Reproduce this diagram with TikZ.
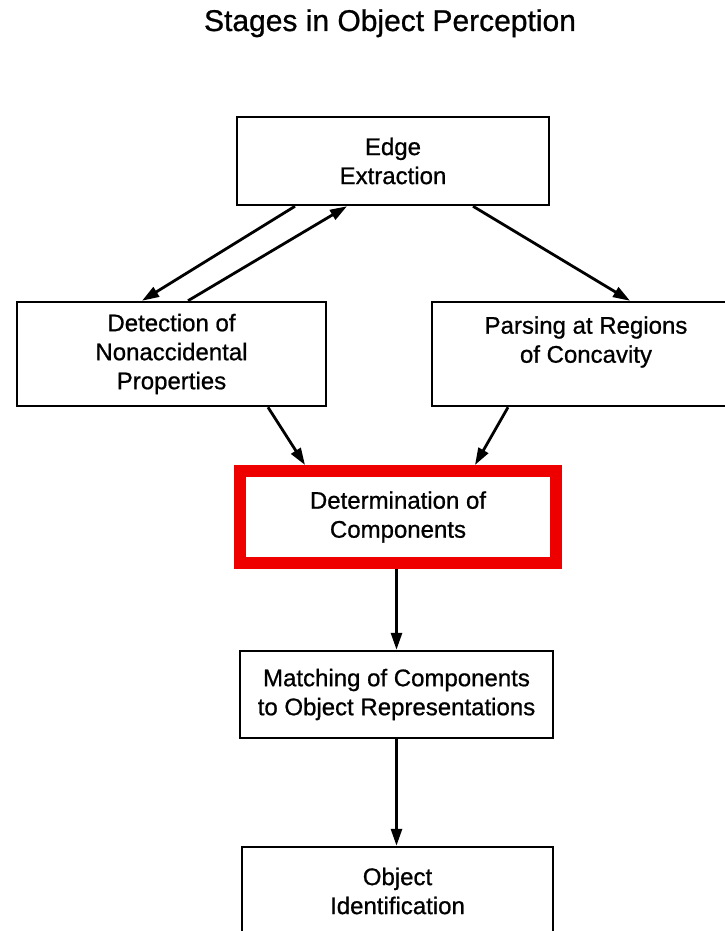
\documentclass[tikz,border=0pt]{standalone}
\usepackage{fontspec}
\setmainfont[FakeBold=0.8]{Liberation Sans}
\usetikzlibrary{arrows.meta}
\definecolor{hilite}{RGB}{238,0,0}
\tikzset{
  stagebox/.style={draw=black, line width=2.5pt, fill=white, inner sep=0pt,
    align=center, font=\fontsize{24}{29}\selectfont},
  hibox/.style={stagebox, draw=hilite, line width=12pt},
  flow/.style={line width=2.8pt, -{Triangle[length=17pt,width=11pt]}},
  titletext/.style={font=\fontsize{30}{36}\selectfont, anchor=base}
}
\begin{document}
\begin{tikzpicture}[x=1pt, y=-1pt]
\useasboundingbox (0,0) rectangle (725,931);
\fill[white] (0,0) rectangle (725,931);
\clip (0,0) rectangle (725,931);

\node[titletext] (title) at (390,31) {Stages in Object Perception};

\node[stagebox, minimum width=312pt, minimum height=88pt] (edge) at (393,161) {Edge\\Extraction};
\node[stagebox, minimum width=309pt, minimum height=104pt] (det) at (171.5,354) {Detection of\\Nonaccidental\\Properties};
\node[stagebox, minimum width=308pt, minimum height=104pt] (par) at (586,354) {Parsing at Regions\\of Concavity\hspace*{20pt}\\\mbox{}};
\node[hibox, minimum width=316pt, minimum height=92pt] (detm) at (398,517) {Determination of\\Components};
\node[stagebox, minimum width=313pt, minimum height=87pt] (match) at (396.5,694.5) {Matching of Components\\to Object Representations};
\node[stagebox, minimum width=311pt, minimum height=88pt] (obj) at (397.5,891) {Object\\Identification};

\draw[flow] ([xshift=-98pt]edge.south) -- ([xshift=-29.5pt]det.north);
\draw[flow] ([xshift=16.5pt]det.north) -- ([xshift=-46pt]edge.south);
\draw[flow] ([xshift=80pt]edge.south) -- ([xshift=44pt]par.north);
\draw[flow] ([xshift=96.5pt]det.south) -- ([xshift=-93pt]detm.north);
\draw[flow] ([xshift=-78pt]par.south) -- ([xshift=77pt]detm.north);
\draw[flow] (detm.south -| match.north) -- (match.north);
\draw[flow] (match.south) -- (match.south |- obj.north);
\end{tikzpicture}
\end{document}
